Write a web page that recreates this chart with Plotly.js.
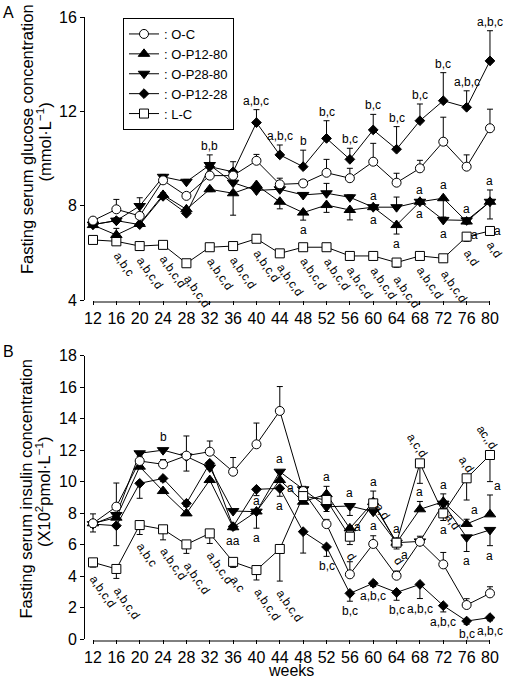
<!DOCTYPE html>
<html><head><meta charset="utf-8">
<script src="https://cdn.plot.ly/plotly-3.0.1.min.js"></script>
<style>html,body{margin:0;padding:0;background:#fff}#chart{width:505px;height:681px}</style>
</head><body><div id="chart"></div>
<script>
// ---------- data ----------
const weeks = [12,16,20,24,28,32,36,40,44,48,52,56,60,64,68,72,76,80];
const seriesNames = [': O-C', ': O-P12-80', ': O-P28-80', ': O-P12-28', ': L-C'];
const titleA = ['Fasting serum glucose concentration', '(mmol·L<sup>−1</sup>)'];
const titleB = ['Fasting serum insulin concentration', '(X10<sup>2</sup>pmol·L<sup>−1</sup>)'];
const xTitle = 'weeks';

// Panel A: fasting serum glucose (mmol/L)
const glucoseOC    = [7.37,7.85,7.57,9.08,8.42,9.28,9.28,9.91,8.91,8.95,9.40,9.17,9.87,8.98,9.59,10.72,9.66,11.29];
const glucoseP1280 = [7.18,6.76,7.23,8.46,7.85,8.70,8.53,8.88,8.17,7.71,8.03,7.82,7.94,7.18,8.17,8.32,7.33,8.17];
const glucoseP2880 = [7.20,7.37,7.99,9.23,9.02,9.73,8.98,8.65,8.70,8.46,8.53,8.36,7.94,7.94,8.17,7.40,7.38,8.17];
const glucoseP1228 = [7.20,7.37,7.20,8.40,7.68,9.66,9.44,11.53,10.16,9.66,10.86,9.97,11.22,10.40,11.61,12.46,12.18,14.15];
const glucoseLC    = [6.55,6.49,6.29,6.34,5.56,6.24,6.29,6.60,5.98,6.24,6.24,5.87,5.87,5.59,5.87,5.77,6.69,6.93];
// error bars (upper / lower)
const glucoseOCErrUp     = [0.10,0.42,0.46,0.10,0.10,0.10,0.10,0.27,0.26,0.15,0.57,0.42,0.78,0.40,0.34,1.04,0.50,0.81];
const glucoseP1280ErrUp  = [0,0.28,0,0,0,0,0,0,0,0,0,0,0,0,0,0,0,0.50];
const glucoseP1280ErrLo  = [0.10,0.10,0.10,0.15,0.10,0.10,0.93,0.10,0.30,0.32,0.31,0.42,0.10,0.38,0.10,0.80,0.10,0];
const glucoseP2880ErrUp  = [0.10,0.10,0.35,0.10,0.10,0.10,0.10,0.10,0.10,0.10,0.42,0.10,0.10,0.43,0.10,0.10,0.10,0.10];
const glucoseP2880ErrLo  = [0,0,0,0,0,0,0,0,0,0,0,0,0,0,0,0,0.10,0.73];
const glucoseP1228ErrUp  = [0.10,0.10,0.10,0.15,0.10,0.50,0.43,0.55,0.42,0.70,0.75,0.47,0.66,0.96,0.71,1.19,0.70,1.28];
const glucoseLCErrLo     = [0.10,0.10,0.10,0.10,0.15,0.10,0.10,0.10,0.10,0.10,0.10,0.10,0.10,0.20,0.10,0.15,0.20,0.10];

// Panel B: fasting serum insulin (x10^2 pmol/L)
const insulinOC    = [7.35,8.41,11.31,11.10,11.65,11.90,10.63,12.37,14.49,9.40,7.30,4.11,6.04,4.02,6.18,4.74,2.16,2.90];
const insulinP1280 = [7.35,7.71,10.95,9.40,7.98,10.10,7.10,8.10,10.10,8.72,9.20,7.03,8.70,6.12,8.24,8.72,7.31,7.92];
const insulinP2880 = [7.30,7.88,11.80,12.00,11.60,10.90,8.13,8.09,10.63,9.51,8.40,8.45,8.09,6.12,6.20,8.60,6.46,6.93];
const insulinP1228 = [7.30,7.20,9.89,10.20,8.62,11.16,7.14,9.51,9.57,6.82,5.85,2.90,3.54,2.96,3.47,2.12,1.14,1.36];
const insulinLC    = [4.87,4.45,7.24,6.97,6.01,6.71,4.90,4.38,5.72,9.08,8.83,6.50,8.62,6.12,11.16,7.98,10.21,11.69];
const insulinOCErrUp    = [0.60,1.50,0.30,0.30,1.25,0.68,0.90,1.35,1.55,0.30,0.30,0.80,0.52,0.30,0.35,0.76,0.40,0.42];
const insulinOCErrLo    = [0.55,0,0,0,0.98,0,0,0,0,0,0,0,0,0,0,0,0,0];
const insulinP1280ErrUp = [0.20,0.10,0.10,0.10,0.10,0.10,0.10,0.10,0.50,0.30,0.50,0.10,0.70,0.30,0.50,0.50,0.30,1.23];
const insulinP2880ErrLo = [0,0,0,0,0,0,0,1.05,0,0,0.30,0.60,0,0,0,0.30,0.90,1.00];
const insulinP1228ErrLo = [0.20,1.27,0.95,0.20,0.20,0.20,0.20,0.40,0.50,1.36,0.60,0.50,0.20,0.50,0.90,0.40,0.20,0.20];
const insulinLCErrLo    = [0.30,0.60,0.60,0.67,0.57,0.64,0.35,0.63,2.04,0.30,0.30,0.50,0.30,0.40,1.27,0.45,1.38,1.69];

// significance labels
const glucoseLCLabels   = ['','a,b,c','a,b,c,d','a,b,c,d','a,b,c,d','a,b,c,d','a,b,c,d','a,b,c,d','a,b,c,d','a,b,c,d','a,b,c,d','a,b,c,d','a,b,c,d','a,b,c,d','a,b,c,d','a,b,c,d','a,d','a,d'];
const glucoseP1228Labels= ['','','','','','b,b','','a,b,c','a,b,c','b','b,c','b,c','b,c','b,c','b,c','b,c','a,b,c','a,b,c'];
const glucoseOtherLabels = [
  [48,'P1280','a','below'],
  [60,'P2880','a','above'],[60,'P1280','a','below'],
  [64,'P1280','a','below'],
  [68,'P2880','a','above'],[68,'P1280','a','below'],
  [72,'P1280','a','above'],[72,'P2880','a','below'],
  [76,'P1280','a','above'],[76,'P2880','a','belowRight'],
  [80,'P1280','a','above'],[80,'P2880','a','belowRight']
];
const insulinLCLabels   = ['a,b,c,d','a,b,c,d','a,b,c','a,b,c,d','a,b,c,d','a,b,c,d','a,c','a,b,c,d','a,b,c,d','','','','','','','','',''];
const insulinP1228Labels= ['','','','','','','','','','','b,c','b,c','a,b,c','b,c','a,b,c','a,b,c','b,c','a,b,c'];
const insulinOtherLabels = [
  [24,'P2880','b','above'],
  [36,'P1280','aa','below'],
  [40,'P1280','a','above'],[40,'P2880','a','below'],
  [44,'P2880','a','above'],[44,'P1228','a','right'],[44,'P1228','a','below'],
  [52,'P1280','a','above'],
  [56,'P2880','a','above'],[56,'P2880','a','belowRight'],[56,'LC','d','rotBelow'],
  [60,'P1280','a','above'],[60,'P2880','a','below'],[60,'LC','a,d','rotRight'],
  [64,'P1280','a','above'],[64,'P2880','a','belowRight'],[64,'LC','d','rotBelow'],
  [68,'LC','a,c,d','rotAbove'],[68,'P1280','a','above'],
  [72,'P1280','a','above'],[72,'LC','a','below'],[72,'LC','a,d','rotRight'],
  [76,'LC','a,d','rotAbove'],[76,'P1280','a','aboveRight'],[76,'P2880','a','below'],
  [80,'LC','ac,,d','rotAbove'],[80,'P1280','a','aboveRight'],[80,'P2880','a','below']
];

// ---------- styles ----------
const FONT = 'Liberation Sans, Arial, Helvetica, sans-serif';
const zeros = weeks.map(()=>0);
const styles = {
  OC:    {symbol:'circle',        color:'#fff', size:9, name:seriesNames[0], rank:1},
  P1280: {symbol:'triangle-up',   color:'#000', size:10, name:seriesNames[1], rank:2},
  P2880: {symbol:'triangle-down', color:'#000', size:10, name:seriesNames[2], rank:3},
  P1228: {symbol:'diamond',       color:'#000', size:7.5, name:seriesNames[3], rank:4},
  LC:    {symbol:'square',        color:'#fff', size:9, name:seriesNames[4], rank:5}
};

const panelA = {
  OC:{y:glucoseOC, up:glucoseOCErrUp, lo:zeros},
  P1280:{y:glucoseP1280, up:glucoseP1280ErrUp, lo:glucoseP1280ErrLo},
  P2880:{y:glucoseP2880, up:glucoseP2880ErrUp, lo:glucoseP2880ErrLo},
  P1228:{y:glucoseP1228, up:glucoseP1228ErrUp, lo:zeros},
  LC:{y:glucoseLC, up:zeros, lo:glucoseLCErrLo}
};
const panelB = {
  OC:{y:insulinOC, up:insulinOCErrUp, lo:insulinOCErrLo},
  P1280:{y:insulinP1280, up:insulinP1280ErrUp, lo:zeros},
  P2880:{y:insulinP2880, up:zeros, lo:insulinP2880ErrLo},
  P1228:{y:insulinP1228, up:zeros, lo:insulinP1228ErrLo},
  LC:{y:insulinLC, up:zeros, lo:insulinLCErrLo}
};

function makeTrace(key, d, xa, ya, showlegend){
  const s = styles[key];
  return {
    type:'scatter', mode:'lines+markers', x:weeks, y:d.y, xaxis:xa, yaxis:ya,
    name:s.name, legendrank:s.rank, showlegend:showlegend, cliponaxis:false,
    line:{color:'#000', width:1},
    marker:{symbol:s.symbol, size:s.size, color:s.color, line:{color:'#000', width:1}},
    error_y:{type:'data', symmetric:false, array:d.up, arrayminus:d.lo, color:'#000', thickness:1, width:3},
    hoverinfo:'skip'
  };
}

const traces = [];
['LC','P1280','P2880','P1228','OC'].forEach(k=>traces.push(makeTrace(k, panelA[k], 'x','y', true)));
['P2880','P1280','P1228','OC','LC'].forEach(k=>traces.push(makeTrace(k, panelB[k], 'x2','y2', false)));

// ---------- annotations ----------
function textW(t){ let w=0; for (const c of t) w += (c===',' ? 3.3 : (c==='c' ? 6 : 6.7)); return w; }
function label(xr, yr, panel, week, key, text, pos){
  const i = weeks.indexOf(week);
  const d = panel[key];
  const val = d.y[i], up = d.up[i], lo = d.lo[i];
  const w = textW(text);
  const a = {xref:xr, yref:yr, x:week, text:text, showarrow:false,
             font:{family:FONT, size:12, color:'#000'}, xanchor:'center', yanchor:'middle'};
  switch(pos){
    case 'above': a.y = val+up; a.yanchor='bottom'; a.yshift = up>0.05 ? 0 : 4; break;
    case 'below': a.y = val-lo; a.yanchor='top'; a.yshift = lo>0.05 ? -1 : -5; break;
    case 'right': a.y = val; a.xanchor='left'; a.xshift = 5; break;
    case 'belowRight': a.y = val-lo; a.xanchor='left'; a.yanchor='top'; a.xshift = 2; a.yshift = -3; break;
    case 'aboveRight': a.y = val+up; a.xanchor='left'; a.yanchor='bottom'; a.xshift = 2; a.yshift = 0; break;
    case 'rotBelow': a.y = val-lo; a.textangle = 55; a.xshift = 0.287*w; a.yshift = -(9.7+0.41*w); break;
    case 'rotAbove': a.y = val; a.textangle = 55; a.xshift = 4.2-0.287*w; a.yshift = 7.3+0.41*w; break;
    case 'rotRight': a.y = val; a.textangle = 55; a.xshift = 4.7+0.287*w; a.yshift = -(1.7+0.41*w); break;
  }
  return a;
}
const annotations = [];
weeks.forEach((wk,i)=>{
  if (glucoseLCLabels[i]) annotations.push(label('x','y',panelA,wk,'LC',glucoseLCLabels[i],'rotBelow'));
  if (glucoseP1228Labels[i]) annotations.push(label('x','y',panelA,wk,'P1228',glucoseP1228Labels[i],'above'));
  if (insulinLCLabels[i]) annotations.push(label('x2','y2',panelB,wk,'LC',insulinLCLabels[i],'rotBelow'));
  if (insulinP1228Labels[i]) annotations.push(label('x2','y2',panelB,wk,'P1228',insulinP1228Labels[i],'below'));
});
glucoseOtherLabels.forEach(l=>annotations.push(label('x','y',panelA,l[0],l[1],l[2],l[3])));
insulinOtherLabels.forEach(l=>annotations.push(label('x2','y2',panelB,l[0],l[1],l[2],l[3])));

// ---------- layout ----------
const H = 681, L = 85, PW = 410;
const px = v => (v - L) / PW;          // pixel x -> paper x
const py = v => 1 - v / H;             // pixel y -> paper y
const titleFont = {family:FONT, size:16.5, color:'#000'};
function yTitle(text, xpix, ypix){
  return {xref:'paper', yref:'paper', x:px(xpix), y:py(ypix), text:text, textangle:-90, showarrow:false,
          xanchor:'center', yanchor:'middle', font:titleFont};
}
annotations.push(yTitle(titleA[0], 27, 139), yTitle(titleA[1], 44.5, 142));
annotations.push(yTitle(titleB[0], 25.5, 489), yTitle(titleB[1], 43, 492));
annotations.push({xref:'x2', yref:'paper', x:46, y:py(670.5), text:xTitle, showarrow:false, xanchor:'center', yanchor:'middle',
                  borderpad:0, font:{family:FONT,size:16,color:'#000'}});
annotations.push({xref:'paper', yref:'paper', x:px(8), y:py(12), text:'A', showarrow:false, xanchor:'center', yanchor:'middle', font:{family:FONT,size:16,color:'#000'}});
annotations.push({xref:'paper', yref:'paper', x:px(8), y:py(351), text:'B', showarrow:false, xanchor:'center', yanchor:'middle', font:{family:FONT,size:16,color:'#000'}});

const xRange = [10.63, 80.86];
const axisCommon = {showline:false, showgrid:false, zeroline:false, ticks:'outside', ticklen:4, tickwidth:1, tickcolor:'#000',
                    tickfont:{family:FONT, size:16, color:'#000'}, range:xRange, tickmode:'linear', tick0:12, dtick:4, domain:[0,1]};
const yCommon = {showline:true, linecolor:'#000', linewidth:1, showgrid:false, zeroline:false, ticks:'outside', ticklen:4,
                 tickwidth:1, tickcolor:'#000', tickfont:{family:FONT, size:16, color:'#000'}, tickmode:'linear'};
const yAdom = [py(300), py(17.3)];
const yBdom = [py(639), py(355.7)];

const layout = {
  width:505, height:681, margin:{l:L, r:10, t:0, b:0}, paper_bgcolor:'#fff', plot_bgcolor:'rgba(0,0,0,0)',
  font:{family:FONT, color:'#000'}, showlegend:true,
  xaxis: Object.assign({}, axisCommon, {anchor:'y'}),
  xaxis2: Object.assign({}, axisCommon, {anchor:'y2'}),
  yaxis: Object.assign({}, yCommon, {domain:yAdom, anchor:'x', range:[4,16], tick0:4, dtick:4}),
  yaxis2: Object.assign({}, yCommon, {domain:yBdom, anchor:'x2', range:[0,18], tick0:0, dtick:2}),
  legend:{x:px(123), y:py(18), xanchor:'left', yanchor:'top', bordercolor:'#000', borderwidth:1, bgcolor:'#fff',
          font:{family:FONT, size:13, color:'#000'}, itemwidth:30, tracegroupgap:0},
  shapes:[
    {type:'line', xref:'x', yref:'paper', x0:12, x1:80, y0:yAdom[0]-2/H, y1:yAdom[0]-2/H, line:{color:'#000', width:1}},
    {type:'line', xref:'x2', yref:'paper', x0:12, x1:80, y0:yBdom[0]-2/H, y1:yBdom[0]-2/H, line:{color:'#000', width:1}}
  ],
  annotations:annotations
};
Plotly.newPlot('chart', traces, layout, {staticPlot:true, displayModeBar:false});
</script></body></html>
